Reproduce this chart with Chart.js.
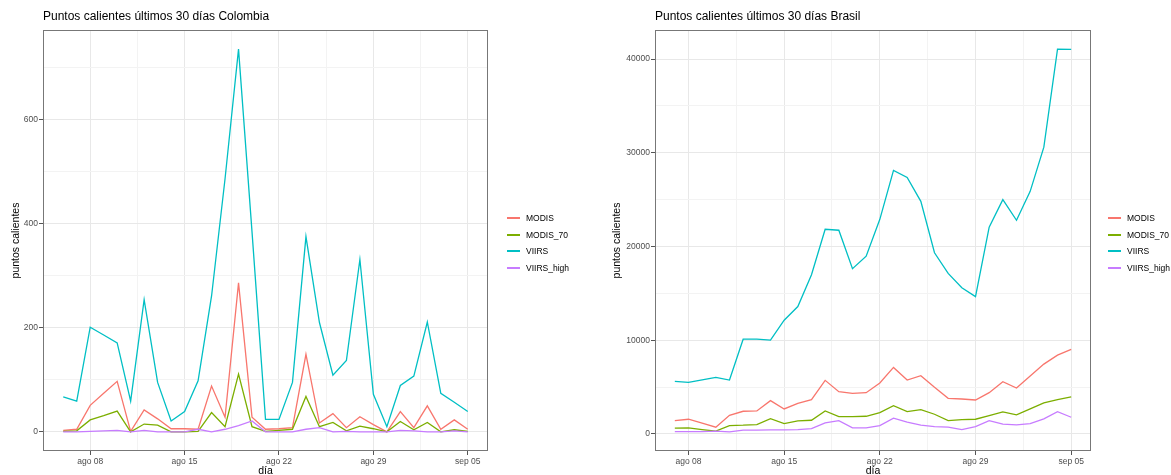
<!DOCTYPE html>
<html>
<head>
<meta charset="utf-8">
<script src="https://cdn.jsdelivr.net/npm/chart.js@4.4.0/dist/chart.umd.min.js"></script>
<style>
    body { margin: 0; background: #fff; width: 1171px; height: 475px; overflow: hidden; position: relative;
           font-family: "Liberation Sans", Arial, sans-serif; }
    .panel { position: absolute; top: 0; }
    .titulo { position: absolute; top: 9px; font-size: 12px; color: #000; white-space: nowrap; line-height: 15px; }
    .leyenda { position: absolute; font-size: 8.5px; color: #000; }
    .leyenda div { position: absolute; left: 0; height: 16px; line-height: 16px; white-space: nowrap; }
    .leyenda span { display: inline-block; width: 13px; height: 2px; vertical-align: middle; margin-right: 6px; position: relative; top: -1px; }
</style>
</head>
<body>
<div class="panel" style="left:0"><canvas id="chartColombia" width="585" height="475"></canvas></div>
<div class="panel" style="left:585px"><canvas id="chartBrasil" width="586" height="475"></canvas></div>
<div class="titulo" style="left:43px">Puntos calientes últimos 30 días Colombia</div>
<div class="titulo" style="left:655px">Puntos calientes últimos 30 días Brasil</div>
<div class="leyenda" id="leyendaColombia" style="left:507px;top:210px"></div>
<div class="leyenda" id="leyendaBrasil" style="left:1108px;top:210px"></div>

<script>
const series = ['MODIS', 'MODIS_70', 'VIIRS', 'VIIRS_high'];
const colores = ['#F8766D', '#7CAE00', '#00BFC4', '#C77CFF'];
const meses = ['ene', 'feb', 'mar', 'abr', 'may', 'jun', 'jul', 'ago', 'sep', 'oct', 'nov', 'dic'];

// Colombia: 06 ago - 05 sep
const fechasColombia = [
    '2024-08-06', '2024-08-07', '2024-08-08', '2024-08-09', '2024-08-10', '2024-08-11', '2024-08-12',
    '2024-08-13', '2024-08-14', '2024-08-15', '2024-08-16', '2024-08-17', '2024-08-18', '2024-08-19',
    '2024-08-20', '2024-08-21', '2024-08-22', '2024-08-23', '2024-08-24', '2024-08-25', '2024-08-26',
    '2024-08-27', '2024-08-28', '2024-08-29', '2024-08-30', '2024-08-31', '2024-09-01', '2024-09-02',
    '2024-09-03', '2024-09-04', '2024-09-05'
];
const modisColombia = [3, 5, 51, 74, 97, 1, 42, 25, 6, 6, 5, 88, 28, 286, 28, 5, 6, 8, 149, 17, 35, 8, 29, 14, 0, 39, 8, 50, 5, 23, 5];
const modis70Colombia = [1, 2, 23, 31, 40, 0, 15, 13, 0, 0, 1, 37, 10, 111, 10, 1, 3, 5, 68, 10, 18, 2, 11, 6, 0, 20, 4, 18, 0, 4, 1];
const viirsColombia = [67, 59, 201, 186, 171, 59, 254, 95, 21, 39, 98, 261, 486, 735, 384, 24, 24, 95, 375, 210, 109, 137, 331, 72, 10, 89, 107, 211, 74, 57, 39];
const viirsHighColombia = [0, 0, 1, 2, 3, 0, 3, 0, 0, 0, 5, 0, 5, 12, 21, 0, 0, 0, 5, 8, 0, 1, 0, 0, 0, 3, 2, 0, 0, 2, 0];

// Brasil: 07 ago - 05 sep
const fechasBrasil = [
    '2024-08-07', '2024-08-08', '2024-08-09', '2024-08-10', '2024-08-11', '2024-08-12', '2024-08-13',
    '2024-08-14', '2024-08-15', '2024-08-16', '2024-08-17', '2024-08-18', '2024-08-19', '2024-08-20',
    '2024-08-21', '2024-08-22', '2024-08-23', '2024-08-24', '2024-08-25', '2024-08-26', '2024-08-27',
    '2024-08-28', '2024-08-29', '2024-08-30', '2024-08-31', '2024-09-01', '2024-09-02', '2024-09-03',
    '2024-09-04', '2024-09-05'
];
const modisBrasil = [1418, 1560, 1135, 709, 1986, 2411, 2447, 3546, 2660, 3262, 3652, 5709, 4500, 4326, 4397, 5426, 7092, 5745, 6206, 4965, 3794, 3723, 3617, 4397, 5567, 4894, 6170, 7447, 8404, 9007];
const modis70Brasil = [603, 638, 450, 284, 887, 922, 993, 1631, 1099, 1383, 1454, 2447, 1844, 1844, 1879, 2270, 3014, 2376, 2589, 2092, 1418, 1525, 1560, 1950, 2340, 2021, 2660, 3298, 3652, 3936];
const viirsBrasil = [5606, 5500, 5770, 6030, 5745, 10106, 10106, 10000, 12128, 13585, 16990, 21840, 21735, 17627, 18968, 22900, 28117, 27372, 24819, 19330, 17128, 15603, 14645, 22057, 25000, 22801, 25887, 30603, 41064, 41028];
const viirsHighBrasil = [248, 248, 240, 284, 213, 390, 390, 425, 425, 461, 567, 1170, 1418, 638, 638, 887, 1667, 1241, 922, 780, 709, 461, 780, 1418, 1028, 957, 1099, 1596, 2376, 1773];

// eje x: días desde el 06 ago
const fechaBase = Date.UTC(2024, 7, 6);
const DIA = 86400000;
function diaNum(f) {
    const [a, m, d] = f.split('-').map(Number);
    return (Date.UTC(a, m - 1, d) - fechaBase) / DIA;
}
function etiquetaFecha(n) {
    const f = new Date(fechaBase + n * DIA);
    return meses[f.getUTCMonth()] + ' ' + String(f.getUTCDate()).padStart(2, '0');
}

const marcasX = [2, 9, 16, 23, 30];              // ago 08, 15, 22, 29, sep 05
const marcasXMenores = [5.5, 12.5, 19.5, 26.5];

const bordePanel = {
    id: 'bordePanel',
    afterDraw(chart) {
        const { ctx, chartArea: a } = chart;
        ctx.save();
        ctx.strokeStyle = '#777';
        ctx.lineWidth = 1;
        ctx.strokeRect(Math.round(a.left) + 0.5, Math.round(a.top) + 0.5,
            Math.round(a.right - a.left) - 1, Math.round(a.bottom - a.top) - 1);
        ctx.restore();
    }
};

function rango(valores) {
    const mn = Math.min(...valores), mx = Math.max(...valores);
    const ex = (mx - mn) * 0.05;
    return [mn - ex, mx + ex];
}

function dibujarPanel(id, fechas, valores, cfg) {
    const xs = fechas.map(diaNum);
    const [xMin, xMax] = rango(xs);
    const [yMin, yMax] = rango(valores.flat());

    const datasets = series.map((nombre, i) => ({
        label: nombre,
        data: valores[i].map((v, j) => ({ x: xs[j], y: v })),
        borderColor: colores[i],
        backgroundColor: colores[i],
        borderWidth: 1.3,
        pointRadius: 0,
        tension: 0,
        order: series.length - i
    }));

    const esMayorY = v => Math.abs(v % cfg.pasoY) < 1e-6;

    new Chart(document.getElementById(id), {
        type: 'line',
        data: { datasets },
        options: {
            responsive: false,
            animation: false,
            layout: { padding: { top: 30, left: cfg.padIzq, right: cfg.padDer, bottom: 0 } },
            plugins: { legend: { display: false }, tooltip: { enabled: false } },
            scales: {
                x: {
                    type: 'linear',
                    min: xMin,
                    max: xMax,
                    afterBuildTicks: s => { s.ticks = marcasX.concat(marcasXMenores).map(v => ({ value: v })); },
                    afterFit: s => { s.height = 24; },
                    grid: {
                        color: c => marcasX.includes(c.tick.value) ? '#e8e8e8' : '#f3f3f3',
                        tickColor: c => marcasX.includes(c.tick.value) ? '#555' : 'rgba(0,0,0,0)',
                        lineWidth: 1,
                        tickLength: 4
                    },
                    border: { display: false },
                    ticks: {
                        autoSkip: false,
                        maxRotation: 0,
                        padding: 2,
                        color: '#4d4d4d',
                        font: { family: 'Liberation Sans', size: 8.5 },
                        callback: v => marcasX.includes(v) ? etiquetaFecha(v) : ''
                    },
                    title: {
                        display: true,
                        text: 'día',
                        color: '#000',
                        font: { family: 'Liberation Sans', size: 10.5, lineHeight: 1 },
                        padding: { top: 0, bottom: -1 }
                    }
                },
                y: {
                    min: yMin,
                    max: yMax,
                    afterBuildTicks: s => {
                        const t = [];
                        for (let v = 0; v <= yMax; v += cfg.pasoY / 2) t.push({ value: v });
                        s.ticks = t;
                    },
                    afterFit: s => { s.width = cfg.anchoY; },
                    grid: {
                        color: c => esMayorY(c.tick.value) ? '#e8e8e8' : '#f3f3f3',
                        tickColor: c => esMayorY(c.tick.value) ? '#555' : 'rgba(0,0,0,0)',
                        lineWidth: 1,
                        tickLength: 4
                    },
                    border: { display: false },
                    ticks: {
                        autoSkip: false,
                        padding: 1,
                        color: '#4d4d4d',
                        font: { family: 'Liberation Sans', size: 8.5 },
                        callback: v => esMayorY(v) ? String(v) : ''
                    },
                    title: {
                        display: true,
                        text: 'puntos calientes',
                        color: '#000',
                        font: { family: 'Liberation Sans', size: 10.5, lineHeight: 1.2 },
                        padding: { top: 10, bottom: 0 }
                    }
                }
            }
        },
        plugins: [bordePanel]
    });
}

// leyenda con la misma paleta que las series
function leyenda(id) {
    document.getElementById(id).innerHTML = series
        .map((s, i) => `<div style="top:${Math.round(i * 16.5)}px"><span style="background:${colores[i]}"></span>${s}</div>`)
        .join('');
}

dibujarPanel('chartColombia', fechasColombia,
    [modisColombia, modis70Colombia, viirsColombia, viirsHighColombia],
    { pasoY: 200, padIzq: 0, padDer: 97, anchoY: 43 });

dibujarPanel('chartBrasil', fechasBrasil,
    [modisBrasil, modis70Brasil, viirsBrasil, viirsHighBrasil],
    { pasoY: 10000, padIzq: 16, padDer: 80, anchoY: 54 });

leyenda('leyendaColombia');
leyenda('leyendaBrasil');
</script>
</body>
</html>
